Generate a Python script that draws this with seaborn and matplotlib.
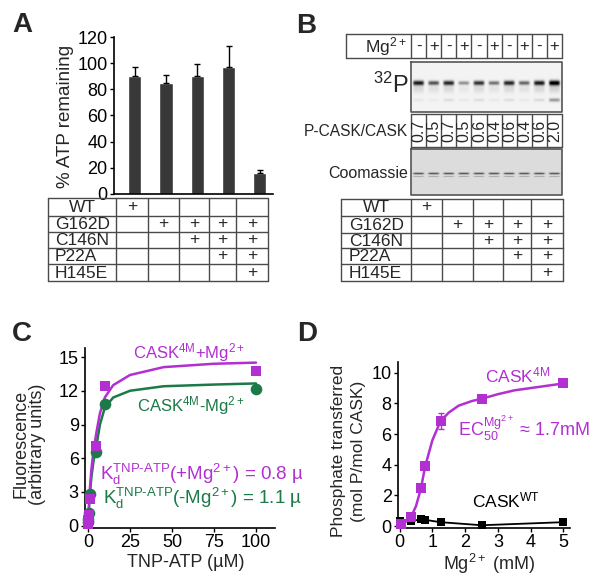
import numpy as np
import pandas as pd
import matplotlib
matplotlib.use("Agg")
import matplotlib.pyplot as plt
from matplotlib.transforms import Bbox, TransformedBbox
import seaborn as sns

sns.set_style('ticks')
plt.rcParams['font.family'] = ['Liberation Sans', 'DejaVu Sans']
plt.rcParams['mathtext.fontset'] = 'custom'
plt.rcParams['mathtext.rm'] = 'Liberation Sans'
plt.rcParams['mathtext.it'] = 'Liberation Sans'
plt.rcParams['mathtext.bf'] = 'Liberation Sans:bold'
plt.rcParams['mathtext.default'] = 'regular'

MAG = '#B22FD2'
GRN = '#1B7A47'
GRID = '#4a4a4a'

# ---- data ----
# A : ATP consumption
mutants = ['WT', 'G162D', 'C146N', 'P22A', 'H145E']
combos = [[1, 0, 0, 0, 0],
          [0, 1, 1, 1, 1],
          [0, 0, 1, 1, 1],
          [0, 0, 0, 1, 1],
          [0, 0, 0, 0, 1]]
bar_ids = ['1', '2', '3', '4', '5']
atp_remaining = [90, 85, 90, 97, 16]
atp_err = [7, 6, 9, 16, 2]

# B : autophosphorylation gel
mg_signs = ['-', '+', '-', '+', '-', '+', '-', '+', '-', '+']
pcask_ratio = ['0.7', '0.5', '0.7', '0.5', '0.6', '0.4', '0.6', '0.4', '0.6', '2.0']
p32_band = [0.85, 0.62, 0.8, 0.38, 0.75, 0.5, 0.8, 0.55, 0.85, 1.0]
p32_lower = [0.05, 0.03, 0.08, 0.04, 0.08, 0.04, 0.08, 0.04, 0.1, 0.35]
coom_band = [0.5, 0.5, 0.5, 0.5, 0.5, 0.5, 0.5, 0.5, 0.5, 0.5]

# C : TNP-ATP binding
tnp_uM = [0, 0.1, 0.5, 1, 5, 10, 100]
fl_plus = [0.2, 0.5, 1.0, 2.4, 7.1, 12.4, 13.8]
fl_minus = [0.3, 0.6, 1.1, 2.8, 6.6, 10.8, 12.2]
fit_x = [0, 0.5, 1.2, 2, 3.2, 5, 7.1, 10, 15, 25, 45, 75, 100]
fit_plus = [0, 1.7, 3.5, 5.0, 6.6, 8.3, 10.0, 11.4, 12.5, 13.4, 14.1, 14.4, 14.5]
fit_minus = [0, 1.4, 3.0, 4.3, 5.7, 7.1, 9.0, 10.5, 11.4, 12.0, 12.4, 12.55, 12.65]

# D : Mg dependence
mg_mM = [0.05, 0.35, 0.65, 0.78, 1.25, 2.5, 5.0]
p_4m = [0.1, 0.6, 2.45, 3.9, 6.85, 8.3, 9.3]
p_4m_err = [0, 0, 0, 0, 0.55, 0, 0]
mg_wt = [0, 0.35, 0.65, 0.78, 1.25, 2.5, 5.0]
p_wt = [0.35, 0.3, 0.45, 0.4, 0.25, 0.05, 0.25]
dfit_x = [0.05, 0.2, 0.35, 0.5, 0.65, 0.78, 1.0, 1.25, 1.5, 1.8, 2.2, 2.5, 3.0, 3.5, 4.0, 4.5, 5.0]
dfit_y = [0.1, 0.3, 0.6, 1.3, 2.45, 3.9, 5.6, 6.85, 7.4, 7.85, 8.15, 8.3, 8.6, 8.85, 9.0, 9.15, 9.3]

W, H = 600, 582
fig = plt.figure(figsize=(6, 5.82), dpi=100)


def px(l, t, r, b):
    return [l / W, 1 - b / H, (r - l) / W, (b - t) / H]


# overlay in pixel coordinates for tables, gel, letters (drawn on top)
ov = fig.add_axes([0, 0, 1, 1])
ov.set_xlim(0, W)
ov.set_ylim(H, 0)
ov.axis('off')
ov.set_zorder(10)


def style(ax):
    sns.despine(ax=ax)
    ax.patch.set_alpha(0)
    for s in ['left', 'bottom']:
        ax.spines[s].set_linewidth(1.2)
        ax.spines[s].set_color('black')
    ax.tick_params(direction='out', length=3, width=1, colors='black',
                   labelsize=13, pad=1.5)
    ax.set_xlabel('')
    ax.set_ylabel('')


def table(xe, ye, left_pad):
    for x in xe:
        ov.plot([x, x], [ye[0], ye[-1]], color=GRID, lw=1)
    for y in ye:
        ov.plot([xe[0], xe[-1]], [y, y], color=GRID, lw=1)
    for i, lab in enumerate(mutants):
        yc = (ye[i] + ye[i + 1]) / 2 + 0.5
        if lab == 'WT':
            ov.text((xe[0] + xe[1]) / 2, yc, lab, ha='center', va='center', fontsize=12.5)
        else:
            ov.text(xe[0] + left_pad, yc, lab, ha='left', va='center', fontsize=12.5)
        for j, v in enumerate(combos[i]):
            if v:
                ov.text((xe[j + 1] + xe[j + 2]) / 2, yc - 1, '+', ha='center',
                        va='center', fontsize=12.5)


# ---- panel A ----
axA = fig.add_axes(px(114, 37, 273, 194))
dfa = pd.DataFrame({'bar': bar_ids, 'atp': atp_remaining})
sns.barplot(data=dfa, x='bar', y='atp', color='#383838', saturation=1,
            width=0.42, errorbar=None, ax=axA)
axA.errorbar(range(5), atp_remaining, yerr=[[0] * 5, atp_err], fmt='none',
             ecolor='black', elinewidth=1, capsize=2.5, capthick=1)
axA.set_xlim(-0.66, 4.42)
axA.set_ylim(0, 120)
axA.set_yticks(range(0, 121, 20))
axA.set_xticks([])
style(axA)
ov.text(66, 116, '% ATP remaining', rotation=90, ha='center', va='center', fontsize=13.5)
table([48, 116, 148, 179, 209, 236, 268], [198, 216, 232, 248, 264, 281], 7)

# ---- panel B ----
lane_x = np.linspace(411, 562, 11)
lane_c = (lane_x[:-1] + lane_x[1:]) / 2

# Mg row
for x in [346, 411] + list(lane_x[1:]):
    ov.plot([x, x], [34, 58], color=GRID, lw=1)
for y in [34, 58]:
    ov.plot([346, 562], [y, y], color=GRID, lw=1)
ov.text(386, 47, 'Mg$^{2+}$', ha='center', va='center', fontsize=12.5)
for xc, s in zip(lane_c, mg_signs):
    ov.text(xc, 46.5, s, ha='center', va='center', fontsize=12)


def gel(x0, x1, y0, y1, bg, layers):
    xs = np.arange(x0, x1) + 0.5
    ys = np.arange(y0, y1) + 0.5
    X, Y = np.meshgrid(xs, ys)
    dark = np.zeros_like(X)
    lw = (x1 - x0) / 10
    for yc, sy, vals in layers:
        for xc, v in zip(lane_c, vals):
            s = sy * (0.7 + 0.6 * v)
            dark += v * np.exp(-((Y - yc) / s) ** 2) * np.exp(-((X - xc) / (lw * 0.36)) ** 6)
    img = np.clip(bg - dark, 0, 1)
    ov.imshow(img, cmap='gray', vmin=0, vmax=1, extent=[x0, x1, y1, y0],
              aspect='auto', interpolation='bilinear', zorder=1)
    ov.plot([x0, x1, x1, x0, x0], [y0, y0, y1, y1, y0], color='#555555', lw=1.2, zorder=2)


gel(411, 562, 62, 112, 0.95,
    [(83, 2.0, p32_band),
     (89, 5.0, [v * 0.12 for v in p32_band]),
     (100, 2.0, p32_lower)])
gel(411, 562, 149, 195, 0.86,
    [(173.5, 1.0, coom_band),
     (176.5, 0.8, [v * 0.35 for v in coom_band])])
ov.set_xlim(0, W)
ov.set_ylim(H, 0)

ov.text(409, 85, '$^{32}$P', ha='right', va='center', fontsize=17)
ov.text(408, 131, 'P-CASK/CASK', ha='right', va='center', fontsize=11.2)
ov.text(408, 174, 'Coomassie', ha='right', va='center', fontsize=11.5)

# ratio row
for x in lane_x:
    ov.plot([x, x], [114, 147], color=GRID, lw=1)
for y in [114, 147]:
    ov.plot([411, 562], [y, y], color=GRID, lw=1)
for xc, r in zip(lane_c, pcask_ratio):
    ov.text(xc + 0.5, 130.5, r, rotation=90, ha='center', va='center', fontsize=11.5)

table([341, 411, 442, 473, 503, 531, 563], [199, 216, 233, 248, 264, 281], 8)

# ---- panel C ----
axC = fig.add_axes(px(85, 348, 275, 528))
sns.lineplot(x=fit_x, y=fit_minus, color=GRN, lw=1.8, ax=axC)
sns.lineplot(x=fit_x, y=fit_plus, color=MAG, lw=1.8, ax=axC)
sns.scatterplot(x=tnp_uM, y=fl_minus, marker='o', s=70, color=GRN, linewidth=0, ax=axC, zorder=3)
sns.scatterplot(x=tnp_uM, y=fl_plus, marker='s', s=55, color=MAG, linewidth=0, ax=axC, zorder=4)
for c in axC.collections:
    c.set_clip_on(False)
axC.set_xlim(-1.8, 111.3)
axC.set_ylim(-0.2, 15.8)
axC.set_xticks([0, 25, 50, 75, 100])
axC.set_yticks([0, 3, 6, 9, 12, 15])
style(axC)
ov.text(21, 444, 'Fluorescence', rotation=90, ha='center', va='center', fontsize=13)
ov.text(38, 444, '(arbitrary units)', rotation=90, ha='center', va='center', fontsize=13)
ov.text(186, 567, 'TNP-ATP (µM)', ha='center', va='baseline', fontsize=13)
ov.text(133, 358, 'CASK$^{4M}$+Mg$^{2+}$', color=MAG, ha='left', va='baseline', fontsize=12)
ov.text(137, 411, 'CASK$^{4M}$-Mg$^{2+}$', color=GRN, ha='left', va='baseline', fontsize=12)
# the Kd labels run into panel D in the original and are cut off there
clip_box = TransformedBbox(Bbox([[0, 0], [302, H]]), ov.transData)
t1 = ov.text(100, 480, r'K$_d^{TNP\text{-}ATP}$(+Mg$^{2+}$) = 0.8 µM', color=MAG,
             ha='left', va='baseline', fontsize=13.5)
t2 = ov.text(103, 504, r'K$_d^{TNP\text{-}ATP}$(-Mg$^{2+}$) = 1.1 µM', color=GRN,
             ha='left', va='baseline', fontsize=13.5)
for t in (t1, t2):
    t.set_clip_on(True)
    t.set_clip_box(clip_box)

# ---- panel D ----
axD = fig.add_axes(px(398, 362, 570, 528))
sns.lineplot(x=mg_wt, y=p_wt, color='black', lw=1.3, ax=axD)
sns.scatterplot(x=mg_wt, y=p_wt, marker='s', s=38, color='black', linewidth=0, ax=axD, zorder=3)
sns.lineplot(x=dfit_x, y=dfit_y, color=MAG, lw=1.8, ax=axD)
axD.errorbar(mg_mM, p_4m, yerr=p_4m_err, fmt='none', ecolor=MAG, elinewidth=1, capsize=2)
sns.scatterplot(x=mg_mM, y=p_4m, marker='s', s=42, color=MAG, linewidth=0, ax=axD, zorder=4)
for c in axD.collections:
    c.set_clip_on(False)
axD.set_xlim(-0.05, 5.2)
axD.set_ylim(-0.13, 10.7)
axD.set_xticks(range(0, 6))
axD.set_yticks(range(0, 11, 2))
style(axD)
ov.text(338, 451, 'Phosphate transferred', rotation=90, ha='center', va='center', fontsize=12.5)
ov.text(358, 451, '(mol P/mol CASK)', rotation=90, ha='center', va='center', fontsize=12.5)
ov.text(489, 570, 'Mg$^{2+}$ (mM)', ha='center', va='baseline', fontsize=13)
ov.text(485, 382, 'CASK$^{4M}$', color=MAG, ha='left', va='baseline', fontsize=12.5)
ov.text(458, 436, 'EC$_{50}^{Mg^{2+}}$ ≈ 1.7mM', color=MAG, ha='left', va='baseline', fontsize=13)
ov.text(472, 507, 'CASK$^{WT}$', color='black', ha='left', va='baseline', fontsize=12.5)

# panel letters
for lab, x, y in [('A', 22, 25), ('B', 306, 26), ('C', 22, 334), ('D', 307, 334)]:
    ov.text(x, y, lab, ha='center', va='center', fontsize=20, fontweight='bold')

fig.savefig('out.png', dpi=100)
